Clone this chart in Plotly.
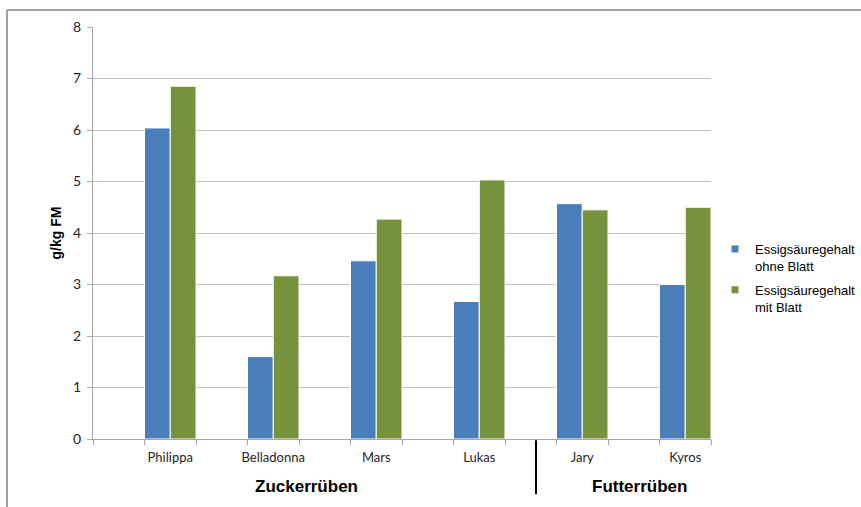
import numpy as np
import plotly.graph_objects as go

# ---- data ----
sorten = ["Philippa", "Belladonna", "Mars", "Lukas", "Jary", "Kyros"]
ohne_blatt = [6.04, 1.60, 3.46, 2.67, 4.57, 3.00]
mit_blatt = [6.85, 3.17, 4.27, 5.03, 4.45, 4.50]
series_names = ["Essigsäuregehalt<br>ohne Blatt", "Essigsäuregehalt<br>mit Blatt"]
gruppen = ["Zuckerrüben", "Futterrüben"]
y_title = "g/kg FM"

blue = "#4A7EBB"
green = "#76923C"
grid = "#C0C0C0"
axis_gray = "#A6A6A6"

pos = np.arange(len(sorten))
boundaries = np.arange(-0.75, len(sorten) - 0.75 + 0.01, 0.5)

fig = go.Figure()
fig.add_trace(go.Bar(x=pos, y=ohne_blatt, offset=-0.25, width=0.25,
                     marker=dict(color=blue, line=dict(color="white", width=1)),
                     showlegend=False, name=series_names[0]))
fig.add_trace(go.Bar(x=pos, y=mit_blatt, offset=0.0, width=0.25,
                     marker=dict(color=green, line=dict(color="white", width=1)),
                     showlegend=False, name=series_names[1]))
# legend entries with small square symbols
for nm, col, grp in [(series_names[0], blue, "a"), (series_names[1], green, "b")]:
    fig.add_trace(go.Scatter(x=[None], y=[None], mode="markers", name=nm,
                             legendgroup=grp,
                             marker=dict(symbol="square", size=7, color=col)))

fig.update_layout(
    width=861, height=507,
    margin=dict(l=93, r=150, t=27, b=68, autoexpand=False),
    paper_bgcolor="white", plot_bgcolor="white",
    barmode="overlay",
    font=dict(family="Lato, Liberation Sans, Arial", size=13, color="#262626"),
    legend=dict(xref="container", yref="container", x=715 / 861, y=1 - 234 / 507,
                xanchor="left", yanchor="top",
                valign="top", itemwidth=30, traceorder="grouped", tracegroupgap=4,
                font=dict(family="Liberation Sans, Arial", size=13, color="black"),
                bgcolor="rgba(0,0,0,0)"),
    xaxis=dict(range=[-0.75, len(sorten) - 0.75], tickmode="array", tickvals=pos,
               ticktext=sorten, ticks="", showgrid=False, zeroline=False,
               showline=True, linecolor=axis_gray, linewidth=1,
               ticklabelstandoff=6,
               minor=dict(tickmode="array", tickvals=boundaries, ticks="outside",
                          ticklen=5, tickcolor=axis_gray, tickwidth=1, showgrid=False),
               fixedrange=True),
    yaxis=dict(range=[0, 8], dtick=1, tick0=0, showgrid=True, gridcolor=grid, gridwidth=1,
               zeroline=False, showline=True, linecolor=axis_gray, linewidth=1,
               ticks="outside", ticklen=5, tickcolor=axis_gray,
               tickfont=dict(size=14), ticklabelstandoff=3,
               title=dict(text=y_title, font=dict(family="Liberation Sans, Arial", size=14,
                                                  color="black", weight="bold"),
                          standoff=8),
               fixedrange=True),
)

# outer chart border (top and left)
fig.add_shape(type="line", xref="paper", yref="paper", x0=(7 - 93) / 618, x1=1.3,
              y0=(439 - 10) / 412, y1=(439 - 10) / 412, line=dict(color="#A0A0A0", width=2))
fig.add_shape(type="line", xref="paper", yref="paper", x0=(7 - 93) / 618, x1=(7 - 93) / 618,
              y0=(439 - 10) / 412, y1=-0.3, line=dict(color="#A0A0A0", width=2))
# separator between groups
fig.add_shape(type="line", xref="paper", yref="paper", x0=(536 - 93) / 618, x1=(536 - 93) / 618,
              y0=-0.003, y1=-0.134, line=dict(color="black", width=2))

# group labels
for txt, px in zip(gruppen, [306, 639]):
    fig.add_annotation(text=txt, xref="paper", yref="paper", x=(px - 93) / 618,
                       y=(439 - 486) / 412, showarrow=False, xanchor="center", yanchor="middle",
                       font=dict(family="Liberation Sans, Arial", size=17, color="black",
                                 weight="bold"))

fig.write_html("out.html")
